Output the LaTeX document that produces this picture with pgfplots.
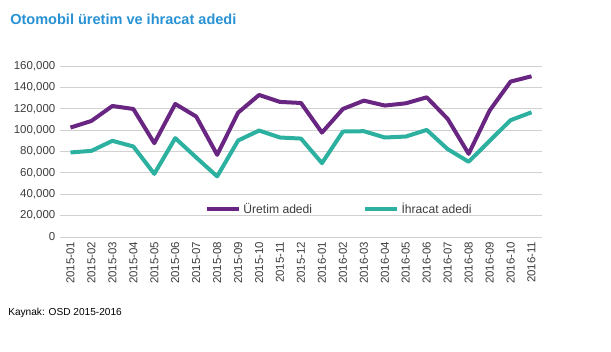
\documentclass[border=0pt]{standalone}
\usepackage{pgfplots}
\pgfplotsset{compat=1.18}
\usepackage{fontspec}
\setmainfont{Liberation Sans}
\definecolor{uret}{RGB}{104,38,130}
\definecolor{ihr}{RGB}{44,176,160}
\definecolor{ttl}{RGB}{40,146,212}
\definecolor{txt}{RGB}{60,60,60}
\begin{document}
\begin{tikzpicture}[x=0.75pt,y=0.75pt]
\useasboundingbox (0,0) rectangle (611,-351);
\node[anchor=base west,inner sep=0,text=ttl,font=\fontsize{10.9}{12}\selectfont\bfseries] at (10,-24) {Otomobil üretim ve ihracat adedi};
\node[anchor=base west,inner sep=0,text=black,font=\fontsize{7.6}{9}\selectfont] at (8,-315) {Kaynak: OSD 2015-2016};
\begin{axis}[
  at={(45pt,-177.75pt)}, anchor=south west,
  scale only axis, width=361.5pt, height=128.25pt,
  xmin=-0.5, xmax=22.5, ymin=0, ymax=160000,
  axis line style={draw=none},
  ymajorgrids, grid style={draw=black!18, line width=0.6pt},
  major tick length=0pt,
  ytick={0,20000,...,160000},
  scaled y ticks=false,
  /pgf/number format/assume math mode=true,
  yticklabel style={/pgf/number format/.cd,fixed,1000 sep={,}},
  ticklabel style={font=\fontsize{8.6}{10}\selectfont, text=txt},
  xtick={0,...,22},
  xticklabels={2015-01,2015-02,2015-03,2015-04,2015-05,2015-06,2015-07,2015-08,2015-09,2015-10,2015-11,2015-12,2016-01,2016-02,2016-03,2016-04,2016-05,2016-06,2016-07,2016-08,2016-09,2016-10,2016-11},
  xticklabel style={rotate=90, anchor=east},
  legend columns=2,
  legend style={at={(0.58,0.164)}, anchor=center, draw=none, fill=none,
    font=\fontsize{9.1}{10}\selectfont, text=txt, /tikz/every even column/.append style={column sep=36pt}},
  legend image code/.code={\draw[#1,line width=3pt] (0pt,0pt) -- (24pt,0pt);},
]
\addplot[uret, line width=3pt, line join=round] coordinates {
(0,102400) (1,108600) (2,122600) (3,119800) (4,87800) (5,124500) (6,112700) (7,76900) (8,116400) (9,132900) (10,126400) (11,125400)
(12,97700) (13,119800) (14,127600) (15,123000) (16,125100) (17,130700) (18,110500) (19,77800) (20,118300) (21,145400) (22,150400)};
\addlegendentry{Üretim adedi}
\addplot[ihr, line width=3pt, line join=round] coordinates {
(0,79100) (1,80600) (2,90000) (3,84700) (4,59100) (5,92500) (6,74400) (7,56700) (8,90300) (9,99600) (10,93100) (11,92100)
(12,69100) (13,98700) (14,99000) (15,93100) (16,94000) (17,100200) (18,82200) (19,70400) (20,90000) (21,109300) (22,116700)};
\addlegendentry{İhracat adedi}
\end{axis}
\end{tikzpicture}
\end{document}
